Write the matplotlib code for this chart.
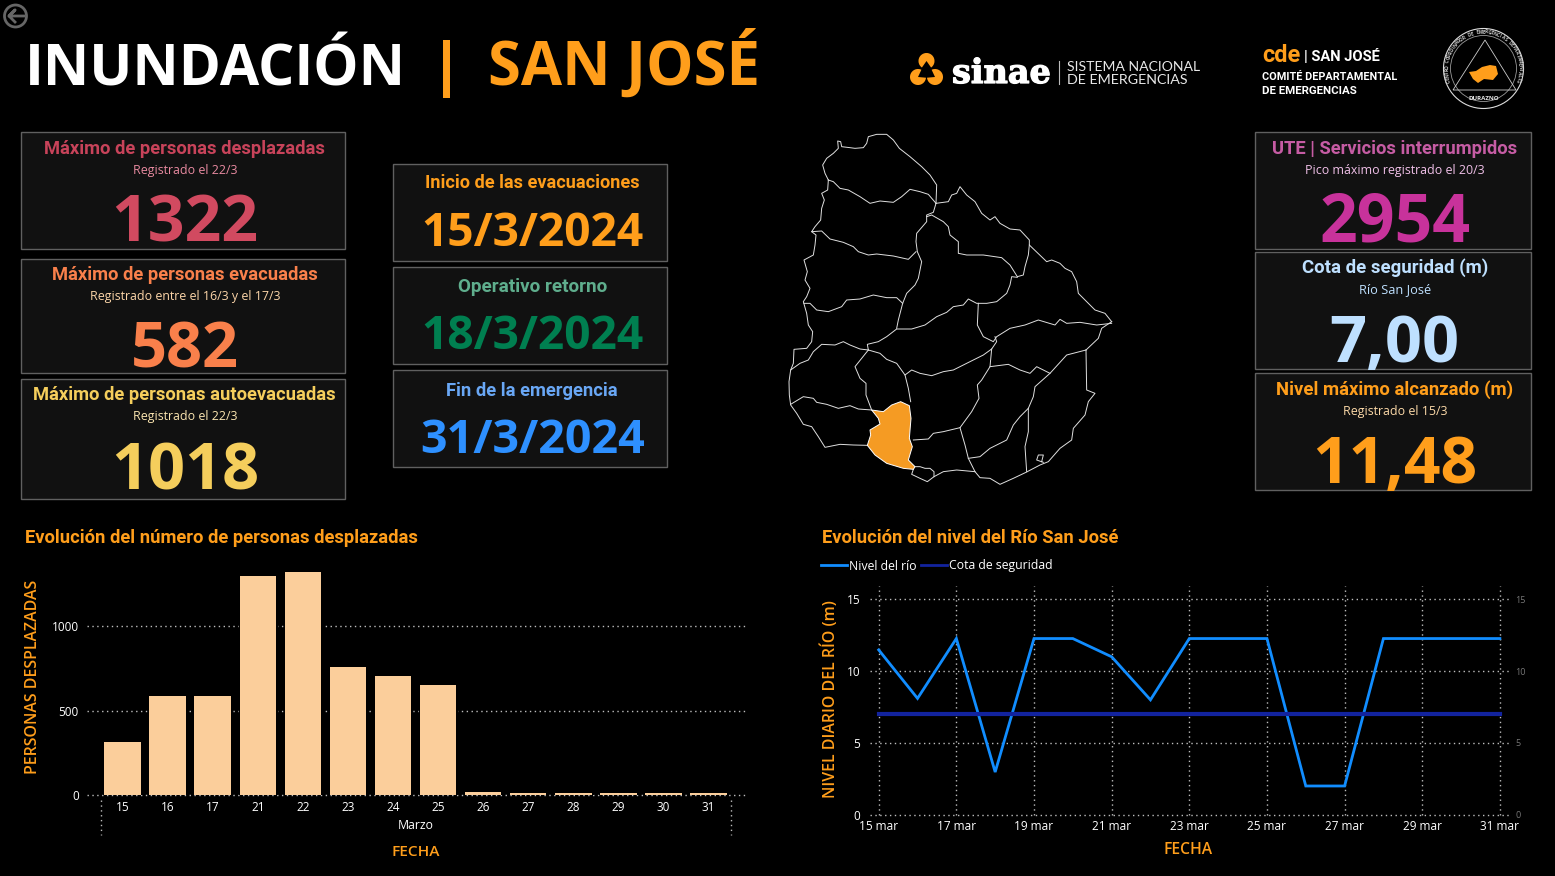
import matplotlib
matplotlib.use("Agg")
import matplotlib.pyplot as plt
from matplotlib.patches import Rectangle, Circle, Polygon, Wedge
from matplotlib.patheffects import withStroke
import numpy as np

plt.rcParams['font.family'] = ['Open Sans', 'DejaVu Sans']

W, H = 1555, 876
ORANGE = '#FF9E1B'
TITLE_FONT = 'Roboto'

# bar chart data
bar_days = ['15', '16', '17', '21', '22', '23', '24', '25', '26', '27', '28', '29', '30', '31']
desplazadas = [312, 590, 585, 1300, 1322, 760, 708, 650, 16, 12, 12, 12, 12, 12]

# line chart data
river_days = list(range(15, 32))
nivel_rio = [11.48, 8.1, 12.27, 2.97, 12.27, 12.27, 11.0, 8.0, 12.27, 12.27, 12.27, 2.0, 2.0, 12.27, 12.27, 12.27, 12.27]
cota = [7.0] * 17

# cards: box, title, sub, value, widths, baselines, colours
left_cards = [
    ((21.3, 132.3, 345.3, 249.3), 'Máximo de personas desplazadas', 'Registrado el 22/3', '1322', 280, 105, 147, 153.5, 241.7, '#C8435A', '#E88AA0', '#D14A60'),
    ((21.3, 259.3, 345.3, 373.3), 'Máximo de personas evacuadas', 'Registrado entre el 16/3 y el 17/3', '582', 265, 192, 108, 279.5, 367, '#F9804B', '#FCD5A8', '#F9804B'),
    ((21.3, 379.3, 345.3, 499.3), 'Máximo de personas autoevacuadas', 'Registrado el 22/3', '1018', 303, 105, 148, 399.5, 489.3, '#F5CE5C', '#FBE5B0', '#F5CE5C'),
]
mid_cards = [
    ((393.3, 164.3, 667.3, 261.3), 'Inicio de las evacuaciones', None, '15/3/2024', 214, 0, 223, 188.5, 246, ORANGE, None, ORANGE),
    ((393.3, 267.3, 667.3, 364.3), 'Operativo retorno', None, '18/3/2024', 150, 0, 223, 291.5, 349, '#5FAE8D', None, '#007F50'),
    ((393.3, 370.3, 667.3, 467.3), 'Fin de la emergencia', None, '31/3/2024', 172, 0, 225, 395.5, 453, '#69A7F5', None, '#2E90FF'),
]
right_cards = [
    ((1255.3, 132.3, 1531.3, 249.3), 'UTE | Servicios interrumpidos', 'Pico máximo registrado el 20/3', '2954', 245, 180, 151, 153.5, 241.7, '#C65CA4', '#F0C0E8', '#C8329B'),
    ((1255.3, 252.3, 1531.3, 369.3), 'Cota de seguridad (m)', 'Río San José', '7,00', 186, 72, 130, 272.5, 362, '#BEE0FF', '#BEE0FF', '#BEE0FF'),
    ((1255.3, 373.3, 1531.3, 490.3), 'Nivel máximo alcanzado (m)', 'Registrado el 15/3', '11,48', 237, 105, 165, 394.5, 482.7, ORANGE, '#FCD9A8', ORANGE),
]

# map outlines, traced in crop coordinates
map_lines = [
    [(145,165),(135,145),(128,120),(140,100),(160,85),(175,70),(173,48),(182,50),(185,65),(210,68),(225,70),(250,68),(260,55),(265,35),(290,28),(320,28),(340,45),(358,70),(390,95),(425,125),(450,150),(470,180),(468,235)],
    [(145,165),(160,170),(180,190),(205,195),(240,215),(270,235),(300,228),(340,232),(365,215),(390,193),(420,200),(445,208),(468,235)],
    [(145,165),(143,195),(125,205),(133,225),(125,250),(122,285),(105,305),(95,320),(108,330),(105,360),(100,390),(72,405),(82,440),(75,465),(90,490),(80,515),(70,530),(80,565),(85,600),(98,620),(95,650),(80,670),(42,673),(40,715),(32,735),(27,770),(28,810),(32,840),(50,865),(70,898),(95,905),(115,935),(135,967),(180,958),(220,960),(262,961)],
    [(400,1033),(395,1048),(420,1060),(442,1070),(462,1055),(490,1040),(530,1035),(585,1040),(600,1058),(630,1060),(660,1078),(700,1060),(738,1042),(780,1020),(805,1010),(840,970),(875,945),(880,910),(915,870),(925,830),(945,805),(920,795),(918,675)],
    [(995,590),(965,610),(955,640),(918,675)],
    [(995,590),(975,565),(945,555),(920,530),(895,505),(890,470),(875,440),(855,430),(840,415),(815,405),(800,410),(748,360),(748,345),(720,315),(690,312),(660,295),(645,275),(630,285),(605,265),(585,230),(560,210),(540,185),(530,205),(515,210),(505,230),(468,235)],
    [(95,320),(125,318),(150,342),(190,352),(220,365),(235,380),(265,390),(290,387),(340,393),(385,403),(408,380)],
    [(468,235),(460,262),(440,270),(440,290),(410,325),(408,350),(412,380),(425,410),(415,460),(405,480),(380,505),(368,535),(355,585),(350,610)],
    [(72,535),(90,535),(110,555),(145,560),(185,545),(200,525),(240,522),(280,510),(320,518),(350,518),(368,535)],
    [(440,275),(455,270),(490,290),(505,305),(510,330),(535,350),(535,385),(560,390),(610,390),(665,398),(690,420),(712,455),(730,450),(735,425),(745,390),(748,360)],
    [(712,457),(695,455),(690,480),(680,505),(650,530),(620,535),(590,535),(565,522),(550,540),(520,545),(500,562),(470,575),(435,600),(395,612),(350,612),(320,635),(295,650),(262,658),(265,675)],
    [(32,735),(60,715),(85,705),(100,680),(125,658),(165,660),(190,650),(210,660),(240,672),(265,675)],
    [(265,675),(300,685),(320,703),(350,715),(375,750),(395,735),(420,745),(455,752),(490,740),(520,735),(560,715),(610,690),(635,672),(650,650),(645,635)],
    [(265,675),(225,725),(240,760),(258,775),(258,810),(275,855)],
    [(375,750),(385,790),(392,830)],
    [(32,838),(70,815),(100,820),(110,832),(140,838),(175,850),(210,842),(235,852),(275,855)],
    [(995,595),(950,600),(900,592),(860,595),(840,583),(825,600),(775,585),(735,600),(690,610),(650,635),(640,650),(610,635),(592,600),(595,535)],
    [(635,672),(630,725),(605,765),(592,780),(597,820),(575,860),(540,908),(490,920),(460,925),(445,942),(400,945)],
    [(540,908),(555,960),(565,1000),(585,1040)],
    [(630,725),(685,718),(720,735),(750,745),(770,725),(810,745),(860,690),(918,675)],
    [(810,745),(765,785),(760,815),(745,850),(720,875),(700,900),(680,945),(630,970),(600,995),(565,1000)],
    [(745,850),(745,920),(735,965),(740,1040)],
    [(790,1012),(770,1005),(775,990),(790,990),(785,1010)],
    [(405,1025),(420,1025),(435,1030),(450,1030),(462,1040),(462,1055)],
]
san_jose = [(275,855),(310,860),(335,840),(362,830),(388,842),(393,880),(388,940),(397,965),(385,1005),(405,1025),(400,1033),(370,1030),(320,1015),(285,990),(262,961),(272,930),(270,915),(300,897),(295,880)]
seal_shape = [(1469,72),(1476,71),(1482,67),(1490,65),(1496,66),(1498,74),(1493,80),(1484,79),(1478,83),(1473,79)]


def to_px(points):
    return [(780 + x / 3, 125 + y / 3) for x, y in points]


fig = plt.figure(figsize=(W / 100, H / 100), dpi=100, facecolor='black')
ov = fig.add_axes([0, 0, 1, 1])
ov.set_xlim(0, W)
ov.set_ylim(H, 0)
ov.axis('off')


def label(x, y, s, width=None, size=10, color='white', weight='normal', ha='center', va='baseline', **kw):
    t = ov.text(x, y, s, fontsize=size, color=color, fontweight=weight, ha=ha, va=va, **kw)
    if width:
        # scale font so the text is as wide as in the reference
        w = t.get_window_extent(fig.canvas.get_renderer()).width
        t.set_fontsize(size * width / w)
    return t


def draw_card(card, dx=1.5):
    box, title, sub, value, tw, sw, vw, ty, vy, tc, sc, vc = card
    x0, y0, x1, y1 = box
    ov.add_patch(Rectangle((x0, y0), x1 - x0, y1 - y0, fc='#111111', ec='#606060', lw=1))
    cx = (x0 + x1) / 2 + dx
    label(cx, ty, title, tw, 13, tc, 600, family=TITLE_FONT)
    if sub:
        label(cx, ty + 20.5, sub, sw, 9, sc)
    label(cx, vy, value, vw, 44, vc, 'bold')


# header
ov.add_patch(Circle((15.5, 16), 11, fc='none', ec='#666666', lw=2))
ov.plot([24, 9, 15, 9, 15], [16, 16, 10, 16, 22], color='#666666', lw=2)
label(25, 85, 'INUNDACIÓN', 381, 42, 'white', 'bold', ha='left')
ov.add_patch(Rectangle((443, 40), 7, 58, fc=ORANGE, ec='none'))
label(488, 85, 'SAN JOSÉ', 272, 42, ORANGE, 'bold', ha='left')

# sinae logo
for center, t1, t2 in [((926.5, 61), 125, 415), ((918, 77), 5, 295), ((935, 77), 245, 535)]:
    ov.add_patch(Wedge(center, 8, t1, t2, fc=ORANGE, ec='none'))
label(952, 83, 'sinae', 99, 26, 'white', 'bold', ha='left', family='DejaVu Serif',
      path_effects=[withStroke(linewidth=0.9, foreground='white')])
ov.plot([1059, 1059], [61, 84], color='#bbbbbb', lw=0.8)
label(1067, 71, 'SISTEMA NACIONAL', 133, 9, '#e8e8e8', ha='left', family='Lato')
label(1067, 84, 'DE EMERGENCIAS', 121, 9, '#e8e8e8', ha='left', family='Lato')

# cde logo
label(1262, 62, 'cde', 38, 18, ORANGE, 'bold', ha='left', family='Roboto')
label(1304, 61, '| SAN JOSÉ', 76, 10, 'white', 'bold', ha='left', family='Roboto')
label(1262, 80, 'COMITÉ DEPARTAMENTAL', 134, 7.5, 'white', 'bold', ha='left', family='Roboto')
label(1262, 94, 'DE EMERGENCIAS', 94, 7.5, 'white', 'bold', ha='left', family='Roboto')

# seal
cx, cy = 1483.5, 68.5
ov.add_patch(Circle((cx, cy), 40, fc='none', ec='#dddddd', lw=0.8))
ov.add_patch(Circle((cx, cy), 33, fc='none', ec='#999999', lw=0.6))
ov.add_patch(Polygon([(1485, 40), (1453, 90), (1516, 90)], closed=True, fc='none', ec='#cccccc', lw=0.6))
ov.add_patch(Polygon(seal_shape, closed=True, fc=ORANGE, ec='none'))
ring = 'CENTRO COORDINADOR DE EMERGENCIAS DEPARTAMENTALES'
for ch, a in zip(ring, np.linspace(200, -20, len(ring))):
    rad = np.deg2rad(a)
    ov.text(cx + 36.5 * np.cos(rad), cy - 36.5 * np.sin(rad), ch, fontsize=3.4, color='#cccccc',
            rotation=a - 90, ha='center', va='center', rotation_mode='anchor', fontweight='bold')
label(cx, 100, 'DURAZNO', 31, 4.5, '#e8e8e8', 'bold')

for card in left_cards + right_cards:
    draw_card(card)
for card in mid_cards:
    draw_card(card, dx=2)

# map
ov.add_patch(Polygon(to_px(san_jose), closed=True, fc='#F59B23', ec='white', lw=0.7, zorder=3))
for line in map_lines:
    pts = to_px(line)
    ov.plot([p[0] for p in pts], [p[1] for p in pts], color='#e0e0e0', lw=0.7, solid_joinstyle='round', zorder=2)


def px_axes(left, top, right, bottom):
    a = fig.add_axes([left / W, 1 - bottom / H, (right - left) / W, (bottom - top) / H])
    a.patch.set_alpha(0)
    for s in a.spines.values():
        s.set_visible(False)
    return a


GRID = dict(color='#bdbdbd', linestyle=(0, (1, 2.5)), linewidth=1.0)

# bars
ax = px_axes(87, 559.5, 745, 795.2)
bars = ax.bar(range(len(bar_days)), desplazadas, width=0.81, color='#FBCE9B', zorder=3)
for b in bars:
    b.set_path_effects([withStroke(linewidth=2.5, foreground='black')])
ax.set_xlim(-0.79, 13.81)
ax.set_ylim(0, 1395)
ax.set_xticks(range(len(bar_days)))
ax.set_xticklabels(bar_days)
ax.set_yticks([0, 500, 1000])
ax.tick_params(axis='both', length=0, colors='white', labelsize=8.5)
ax.tick_params(axis='x', pad=4)
ax.tick_params(axis='y', pad=6)
ax.grid(axis='y', zorder=0, clip_on=False, **GRID)
ax.set_axisbelow(True)
for sx in (100.5, 731):
    ov.plot([sx, sx], [800, 835], color='#bdbdbd', linestyle=(0, (1, 2.5)), lw=1)
label(416, 829, 'Marzo', 36, 8.5)
label(416, 856, 'FECHA', 48, 10, ORANGE, 600)
label(25, 543, 'Evolución del número de personas desplazadas', 392, 12, ORANGE, 600, ha='left', family=TITLE_FONT)
ov.text(33.5, 676.5, 'PERSONAS DESPLAZADAS', fontsize=11.4, color=ORANGE, fontweight=600, rotation=90, ha='center', va='center')

# lines
days = np.array(river_days)
ax2 = px_axes(870, 586, 1510, 814.7)
l1, = ax2.plot(days, nivel_rio, color='#118DFF', lw=2.0, solid_joinstyle='miter', label='Nivel del río', zorder=3)
l2, = ax2.plot(days, cota, color='#12239E', lw=3.0, label='Cota de seguridad', zorder=4)
ax2.set_xlim(15 - 0.224, 31 + 0.26)
ax2.set_ylim(0, 15.93)
tick_days = river_days[::2]
ax2.set_xticks(tick_days)
ax2.set_xticklabels([f'{d} mar' for d in tick_days])
ax2.set_yticks([0, 5, 10, 15])
ax2.tick_params(axis='both', length=0, colors='white', labelsize=8.5)
ax2.tick_params(axis='x', pad=4)
ax2.tick_params(axis='y', pad=7)
ax2.grid(True, zorder=0, clip_on=False, **GRID)
ax2.set_axisbelow(True)
right = ax2.twinx()
right.set_ylim(0, 15.93)
right.set_yticks([0, 5, 10, 15])
right.tick_params(axis='y', length=0, colors='#777777', labelsize=6.5, pad=4)
for s in right.spines.values():
    s.set_visible(False)
leg = fig.legend(handles=[l1, l2], loc='center left', bbox_to_anchor=(821 / W, 1 - 566 / H), ncol=2, frameon=False,
                 fontsize=8.8, labelcolor='white', handlelength=2.1, handletextpad=0.2, columnspacing=0.35,
                 borderpad=0, borderaxespad=0)
for h in leg.get_lines():
    h.set_linewidth(2.0)
label(1188, 854, 'FECHA', 49, 10, ORANGE, 600)
label(822, 543, 'Evolución del nivel del Río San José', 294, 12, ORANGE, 600, ha='left', family=TITLE_FONT)
ov.text(830.5, 699.5, 'NIVEL DIARIO DEL RÍO (m)', fontsize=11.4, color=ORANGE, fontweight=600, rotation=90, ha='center', va='center')

fig.savefig('out.png', dpi=100, facecolor='black')
